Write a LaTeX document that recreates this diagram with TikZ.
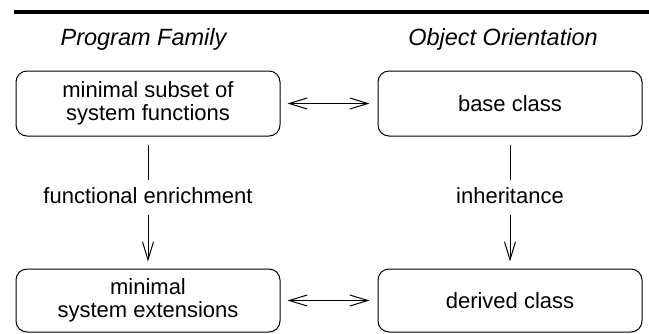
\documentclass[tikz,border=0pt]{standalone}
\usepackage{fontspec}
\setmainfont{Liberation Sans}
\usetikzlibrary{arrows.meta}
\tikzset{
  box/.style={draw, line width=0.5pt, rounded corners=5.5pt, minimum width=132pt, align=center,
    font=\fontsize{11}{11.7}\selectfont, inner sep=0pt},
  head/.style={font=\fontsize{11.75}{13}\selectfont\itshape, inner sep=0pt},
  lbl/.style={font=\fontsize{11}{13}\selectfont, text height=8pt, text depth=2.5pt, inner xsep=2pt, inner ysep=3.3pt},
  conn/.style={line width=0.5pt},
  tip/.style={-{Straight Barb[length=9pt, width=5.5pt, line width=0.5pt]}},
  both/.style={{Straight Barb[length=9pt, width=5.5pt, line width=0.5pt]}-{Straight Barb[length=9pt, width=5.5pt, line width=0.5pt]}}
}
\begin{document}
\begin{tikzpicture}[x=0.5pt, y=-0.5pt]
\useasboundingbox (0,0) rectangle (649,333);
\coordinate (ruleL) at (14,12);
\coordinate (ruleR) at (649,12);
\draw[line width=2pt] (ruleL) -- (ruleR);
\node[head] (h1) at (143.5,39) {Program Family};
\node[head] (h2) at (503,39) {Object Orientation};
\node[box, minimum height=32.5pt] (pf1) at (148,103.5) {minimal subset of\\system functions};
\node[box, minimum height=32.5pt] (oo1) at (510,103.5) {base class};
\node[box, minimum height=31.5pt] (pf2) at (148,300.5) {minimal\\system extensions};
\node[box, minimum height=31.5pt] (oo2) at (510,300.5) {derived class};
\node[lbl] (l1) at (148,197.5) {functional enrichment};
\node[lbl] (l2) at (510,197.5) {inheritance};
\draw[conn, shorten <=4pt] (pf1) -- (l1);
\draw[conn, tip, shorten >=3.5pt] (l1) -- (pf2);
\draw[conn, shorten <=4pt] (oo1) -- (l2);
\draw[conn, tip, shorten >=3.5pt] (l2) -- (oo2);
\draw[conn, both, shorten <=3.5pt, shorten >=4pt] (pf1) -- (oo1);
\draw[conn, both, shorten <=3.5pt, shorten >=4pt] (pf2) -- (oo2);
\end{tikzpicture}
\end{document}
